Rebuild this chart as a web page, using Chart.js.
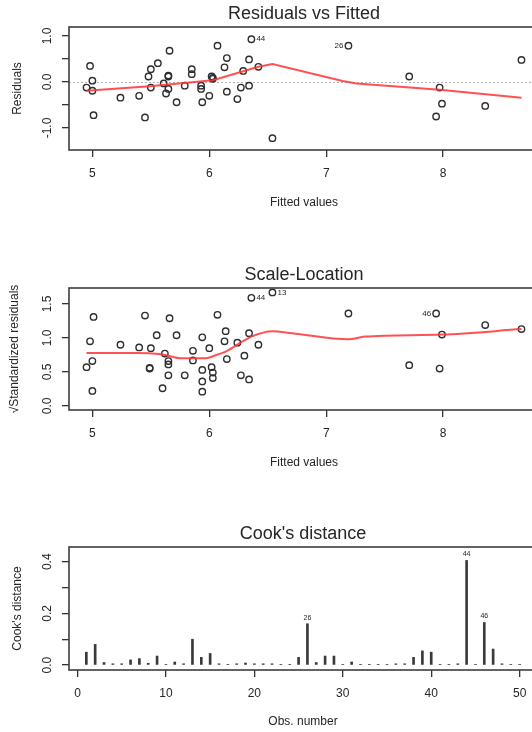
<!DOCTYPE html>
<html>
<head>
<meta charset="utf-8">
<script src="https://cdn.jsdelivr.net/npm/chart.js@4.4.0/dist/chart.umd.min.js"></script>
<style>
  html, body { margin: 0; padding: 0; background: #fff; overflow: hidden; width: 532px; height: 732px; }
  .panel { position: absolute; left: 0; width: 560px; }
</style>
</head>
<body>
<div class="panel" style="top:0;height:240px"><canvas id="resid" width="560" height="240"></canvas></div>
<div class="panel" style="top:250px;height:240px"><canvas id="scale" width="560" height="240"></canvas></div>
<div class="panel" style="top:505px;height:227px"><canvas id="cook" width="560" height="227"></canvas></div>
<script>
const FONT = '"Liberation Sans", Arial, sans-serif';
const INK = '#262626';

// Residuals vs Fitted
const residFitted = [4.98, 5.00, 4.95, 5.00, 5.01, 5.24, 5.40, 5.45, 5.48, 5.50, 5.56, 5.50, 5.66, 5.65, 5.65, 5.61,
  5.63, 5.65, 5.72, 5.79, 5.85, 5.85, 5.93, 5.93, 5.94, 6.00, 6.02, 6.03, 6.03, 6.07, 6.15, 6.13, 6.15, 6.24,
  6.27, 6.34, 6.29, 6.34, 6.42, 6.36, 6.54, 7.19, 7.71, 7.97, 7.99, 7.94, 8.36, 8.67];
const residuals = [0.35, 0.03, -0.12, -0.19, -0.72, -0.34, -0.30, -0.77, 0.12, 0.28, 0.41, -0.12, 0.68, 0.14, 0.12, -0.03,
  -0.25, -0.15, -0.44, -0.08, 0.28, 0.17, -0.08, -0.15, -0.44, -0.30, 0.12, 0.09, 0.07, 0.79, 0.52, 0.32, -0.21, -0.37,
  -0.12, -0.08, 0.24, 0.49, 0.33, 0.93, -1.22, 0.79, 0.12, -0.12, -0.47, -0.75, -0.52, 0.48];
const residSmoothX = [4.95, 5.49, 6.03, 6.14, 6.42, 6.54, 7.14, 7.26, 7.97, 8.67];
const residSmoothY = [-0.19, -0.09, 0.04, 0.12, 0.33, 0.39, 0.02, -0.03, -0.17, -0.34];
const residTicks = [-1.0, -0.5, 0.0, 0.5, 1.0];
const residTickLabels = [-1.0, 0.0, 1.0];

// Scale-Location
const scaleFitted = [5.01, 4.98, 5.00, 4.95, 5.00, 5.24, 5.40, 5.45, 5.50, 5.55, 5.49, 5.49, 5.66, 5.72, 5.62, 5.65,
  5.65, 5.65, 5.60, 5.79, 5.86, 5.86, 5.94, 5.94, 5.94, 5.94, 6.00, 6.02, 6.03, 6.03, 6.07, 6.14, 6.13, 6.15,
  6.24, 6.30, 6.34, 6.27, 6.34, 6.42, 6.36, 6.54, 7.19, 7.71, 7.97, 7.99, 7.94, 8.36, 8.67];
const sqrtStdResid = [1.31, 0.95, 0.66, 0.57, 0.22, 0.90, 0.86, 1.33, 0.85, 1.04, 0.56, 0.55, 1.29, 1.04, 0.77, 0.66,
  0.61, 0.45, 0.26, 0.45, 0.81, 0.67, 1.01, 0.53, 0.36, 0.21, 0.85, 0.57, 0.49, 0.41, 1.34, 1.10, 0.95, 0.69,
  0.93, 0.74, 1.07, 0.45, 0.39, 0.90, 1.59, 1.67, 1.36, 0.60, 0.55, 1.05, 1.36, 1.19, 1.13];
const scaleSmoothX = [4.95, 5.37, 5.59, 5.77, 5.97, 6.06, 6.14, 6.36, 6.54, 6.71, 7.19, 7.33, 7.99, 8.67];
const scaleSmoothY = [0.78, 0.78, 0.76, 0.70, 0.70, 0.75, 0.80, 1.02, 1.10, 1.07, 0.98, 1.02, 1.05, 1.13];
const scaleTicks = [0.0, 0.5, 1.0, 1.5];

const fittedTicks = [5, 6, 7, 8];

// Cook's distance
const obsNumber = [1, 2, 3, 4, 5, 6, 7, 8, 9, 10, 11, 12, 13, 14, 15, 16, 17, 18, 19, 20, 21, 22, 23, 24, 25,
  26, 27, 28, 29, 30, 31, 32, 33, 34, 35, 36, 37, 38, 39, 40, 41, 42, 43, 44, 45, 46, 47, 48, 49, 50];
const cooksD = [0.050, 0.080, 0.010, 0.005, 0.005, 0.020, 0.025, 0.007, 0.035, 0.002, 0.012, 0.005, 0.100, 0.030,
  0.045, 0.005, 0.002, 0.005, 0.008, 0.005, 0.005, 0.005, 0.002, 0.002, 0.030, 0.160, 0.010, 0.035, 0.035, 0.003,
  0.012, 0.002, 0.002, 0.002, 0.002, 0.005, 0.005, 0.030, 0.055, 0.050, 0.002, 0.002, 0.005, 0.405, 0.002, 0.165,
  0.062, 0.005, 0.002, 0.002];
const obsTicks = [0, 10, 20, 30, 40, 50];
const cookTicks = [0.0, 0.1, 0.2, 0.3, 0.4];
const cookTickLabels = [0.0, 0.2, 0.4];

// Identified observations
const residIds = [{ id: '44', x: 6.36, y: 0.93, side: 'right' }, { id: '26', x: 7.19, y: 0.79, side: 'left' }];
const scaleIds = [{ id: '44', x: 6.36, y: 1.59, side: 'right' }, { id: '13', x: 6.54, y: 1.67, side: 'right' },
  { id: '46', x: 7.94, y: 1.36, side: 'left' }];
const cookIds = [{ id: '26', x: 26, y: 0.160, side: 'top' }, { id: '44', x: 44, y: 0.405, side: 'top' },
  { id: '46', x: 46, y: 0.165, side: 'top' }];

const pairs = (xs, ys) => xs.map((x, i) => ({ x, y: ys[i] }));

/** Box, titles, rotated y labels and id labels drawn the way base R does. */
function rDecor(cfg) {
  return {
    id: 'rDecor',
    beforeDatasetsDraw(chart) {
      if (!cfg.zeroLine) return;
      const { ctx, chartArea: a, scales } = chart;
      const py = Math.round(scales.y.getPixelForValue(0)) + 0.5;
      ctx.save();
      ctx.strokeStyle = '#b0b0b0';
      ctx.lineWidth = 1;
      ctx.setLineDash([2, 2]);
      ctx.beginPath();
      ctx.moveTo(a.left, py);
      ctx.lineTo(a.right, py);
      ctx.stroke();
      ctx.restore();
    },
    afterDraw(chart) {
      const { ctx, chartArea: a, scales } = chart;
      const cx = (a.left + a.right) / 2;
      ctx.save();
      ctx.strokeStyle = '#3e3e3e';
      ctx.lineWidth = 1.6;
      ctx.strokeRect(a.left, a.top, a.right - a.left, a.bottom - a.top);

      ctx.fillStyle = INK;
      ctx.textAlign = 'center';
      ctx.textBaseline = 'middle';
      ctx.font = `18px ${FONT}`;
      ctx.fillText(cfg.title, cx, cfg.titleY);
      ctx.font = `12px ${FONT}`;
      ctx.fillText(cfg.xTitle, cx, cfg.xTitleY);

      cfg.yLabels.forEach((v) => {
        ctx.save();
        ctx.translate(48, scales.y.getPixelForValue(v));
        ctx.rotate(-Math.PI / 2);
        ctx.fillText(v.toFixed(1), 0, 0);
        ctx.restore();
      });
      ctx.save();
      ctx.translate(cfg.yTitleX, (a.top + a.bottom) / 2);
      ctx.rotate(-Math.PI / 2);
      ctx.fillText(cfg.yTitle, 0, 0);
      ctx.restore();

      ctx.font = `${cfg.idSize}px ${FONT}`;
      cfg.ids.forEach((p) => {
        const px = scales.x.getPixelForValue(p.x);
        const py = scales.y.getPixelForValue(p.y);
        if (p.side === 'top') {
          ctx.textAlign = 'center';
          ctx.fillText(p.id, px, py - 6);
        } else {
          ctx.textAlign = p.side === 'right' ? 'left' : 'right';
          ctx.fillText(p.id, px + (p.side === 'right' ? 5 : -5), py);
        }
      });
      ctx.restore();
    },
  };
}

function axis(min, max, ticks, size) {
  return {
    type: 'linear',
    min, max,
    offset: false,
    border: { display: false },
    grid: { offset: false, drawOnChartArea: false, drawTicks: true, tickLength: 7, color: '#333', lineWidth: 1.3 },
    ticks: { color: INK, font: { family: FONT, size: 12 }, padding: 9, maxRotation: 0, autoSkip: false },
    afterBuildTicks: (s) => { s.ticks = ticks.map((value) => ({ value })); },
    afterFit: size,
  };
}

function rPanel(id, type, datasets, sc, cfg) {
  const x = axis(sc.xMin, sc.xMax, sc.xTicks, (s) => { s.height = sc.xHeight; });
  const y = axis(sc.yMin, sc.yMax, sc.yTicks, (s) => { s.width = 69; });
  y.ticks.display = false;
  return new Chart(document.getElementById(id), {
    type,
    data: { datasets },
    options: {
      responsive: false,
      animation: false,
      events: [],
      layout: { padding: { top: sc.top, right: sc.right, left: 0, bottom: 0 } },
      plugins: { legend: { display: false }, tooltip: { enabled: false } },
      scales: { x, y },
    },
    plugins: [rDecor(cfg)],
  });
}

const smoothStyle = {
  showLine: true, pointRadius: 0, borderColor: 'rgba(255,50,50,0.85)', borderWidth: 2, fill: false,
};
const pointStyle = {
  showLine: false, pointRadius: 3.2, borderWidth: 1.4, pointBorderColor: '#2e2e2e',
  pointBackgroundColor: 'rgba(0,0,0,0)',
};

rPanel('resid', 'scatter', [
  { ...smoothStyle, tension: 0, data: pairs(residSmoothX, residSmoothY) },
  { ...pointStyle, data: pairs(residFitted, residuals) },
], { xMin: 4.80, xMax: 8.82, yMin: -1.478, yMax: 1.196, xTicks: fittedTicks, yTicks: residTicks,
  top: 27, right: 21, xHeight: 90 },
{ title: 'Residuals vs Fitted', titleY: 14, xTitle: 'Fitted values', xTitleY: 203, yTitle: 'Residuals', yTitleX: 18,
  yLabels: residTickLabels, ids: residIds, idSize: 8, zeroLine: true });

rPanel('scale', 'scatter', [
  { ...smoothStyle, cubicInterpolationMode: 'monotone', data: pairs(scaleSmoothX, scaleSmoothY) },
  { ...pointStyle, data: pairs(scaleFitted, sqrtStdResid) },
], { xMin: 4.80, xMax: 8.82, yMin: -0.06, yMax: 1.735, xTicks: fittedTicks, yTicks: scaleTicks,
  top: 38, right: 21, xHeight: 80 },
{ title: 'Scale-Location', titleY: 25, xTitle: 'Fitted values', xTitleY: 213, yTitle: '\u221aStandardized residuals',
  yTitleX: 15, yLabels: scaleTicks, ids: scaleIds, idSize: 8 });

rPanel('cook', 'bar', [
  { data: pairs(obsNumber, cooksD), backgroundColor: '#3a3a3a', barThickness: 2 },
], { xMin: -0.96, xMax: 51.96, yMin: -0.019, yMax: 0.457, xTicks: obsTicks, yTicks: cookTicks,
  top: 42, right: 23, xHeight: 62 },
{ title: "Cook's distance", titleY: 29, xTitle: 'Obs. number', xTitleY: 217, yTitle: "Cook's distance", yTitleX: 18,
  yLabels: cookTickLabels, ids: cookIds, idSize: 7 });
</script>
</body>
</html>
